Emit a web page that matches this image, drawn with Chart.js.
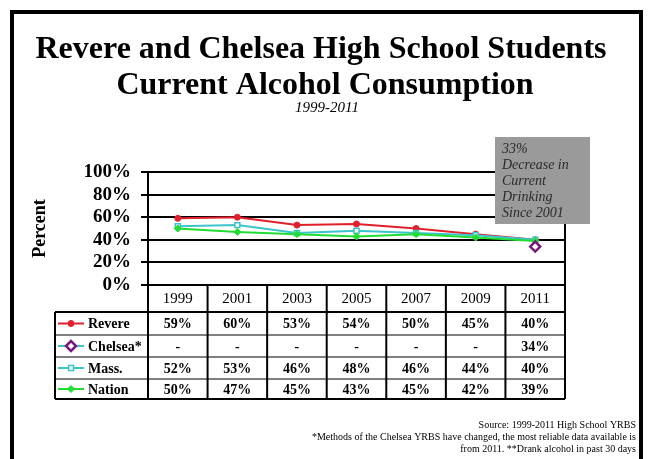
<!DOCTYPE html>
<html>
<head>
<meta charset="utf-8">
<script src="https://cdn.jsdelivr.net/npm/chart.js@4.4.0/dist/chart.umd.min.js"></script>
<style>
  html, body { margin: 0; padding: 0; background: #fff; }
  canvas { display: block; }
</style>
</head>
<body>
<canvas id="alcoholChart" width="649" height="459"></canvas>
<script>
const years = ['1999', '2001', '2003', '2005', '2007', '2009', '2011'];
const revere = [59, 60, 53, 54, 50, 45, 40];
const chelsea = [null, null, null, null, null, null, 34];
const mass = [52, 53, 46, 48, 46, 44, 40];
const nation = [50, 47, 45, 43, 45, 42, 39];
const titleLines = ['Revere and Chelsea High School Students', 'Current Alcohol Consumption'];
const subtitle = '1999-2011';
const noteLines = ['33%', 'Decrease in', 'Current', 'Drinking', 'Since 2001'];
const sourceLines = [
  'Source: 1999-2011 High School YRBS',
  '*Methods of the Chelsea YRBS have changed, the most reliable data available is',
  'from 2011. **Drank alcohol in past 30 days'
];

const SERIF = '"Liberation Serif", "Times New Roman", serif';

// series styling, also reused for the legend keys inside the table
const series = [
  { label: 'Revere', data: revere, line: '#e0202c', point: '#e0202c', fill: '#e0202c', style: 'circle', radius: 3, order: 2 },
  { label: 'Chelsea*', data: chelsea, line: '#3cc4cc', point: '#7a1878', fill: '#ffffff', style: 'rectRot', radius: 5, pointWidth: 2.5, order: -1 },
  { label: 'Mass.', data: mass, line: '#3cc4cc', point: '#3cc4cc', fill: '#ffffff', style: 'rect', radius: 3.5, pointWidth: 1.5, order: 1 },
  { label: 'Nation', data: nation, line: '#22dc33', point: '#22dc33', fill: '#22dc33', style: 'rectRot', radius: 3.5, order: 0 }
];

const datasets = series.map(s => ({
  label: s.label,
  data: s.data,
  borderColor: s.line,
  borderWidth: 2,
  pointStyle: s.style,
  pointRadius: s.radius,
  pointBorderColor: s.point,
  pointBackgroundColor: s.fill,
  pointBorderWidth: s.pointWidth || 1,
  tension: 0,
  order: s.order
}));

function drawKey(ctx, s, x0, x1, y) {
  ctx.strokeStyle = s.line;
  ctx.lineWidth = 2;
  ctx.beginPath();
  ctx.moveTo(x0, y);
  ctx.lineTo(x1, y);
  ctx.stroke();
  ctx.fillStyle = s.fill;
  ctx.strokeStyle = s.point;
  ctx.lineWidth = s.pointWidth || 1;
  Chart.helpers.drawPoint(ctx, {
    pointStyle: s.style,
    radius: s.radius,
    rotation: 0,
    borderWidth: s.pointWidth || 1
  }, (x0 + x1) / 2, y);
}

const framePlugin = {
  id: 'frame',
  afterDraw(chart) {
    const { ctx, chartArea: a, scales: { x } } = chart;
    ctx.save();

    // titles
    ctx.fillStyle = '#000';
    ctx.textAlign = 'center';
    ctx.textBaseline = 'alphabetic';
    ctx.font = `bold 32px ${SERIF}`;
    ctx.fillText(titleLines[0], 321, 58);
    ctx.fillText(titleLines[1], 325, 94);
    ctx.font = `italic 15px ${SERIF}`;
    ctx.fillText(subtitle, 327, 112);

    // right edge of the plot box
    ctx.strokeStyle = '#000';
    ctx.lineWidth = 2;
    ctx.beginPath();
    ctx.moveTo(a.right, a.top);
    ctx.lineTo(a.right, a.bottom);
    ctx.stroke();

    // data table under the plot
    const n = years.length;
    const half = (a.right - a.left) / n / 2;
    const rows = [a.bottom, a.bottom + 27, a.bottom + 50, a.bottom + 72, a.bottom + 94, a.bottom + 114];
    const keyLeft = 55;
    ctx.fillStyle = '#000';
    ctx.textAlign = 'center';
    ctx.textBaseline = 'middle';
    ctx.font = `15px ${SERIF}`;
    years.forEach((yr, i) => ctx.fillText(yr, x.getPixelForValue(i), (rows[0] + rows[1]) / 2 + 1));

    series.forEach((s, r) => {
      const cy = (rows[r + 1] + rows[r + 2]) / 2 + 1;
      ctx.fillStyle = '#000';
      ctx.font = `bold 14px ${SERIF}`;
      ctx.textAlign = 'center';
      s.data.forEach((v, i) => ctx.fillText(v == null ? '-' : v + '%', x.getPixelForValue(i), cy));
      ctx.textAlign = 'left';
      ctx.fillText(s.label, 88, cy);
      drawKey(ctx, s, keyLeft + 3, 84, cy - 1);
    });

    ctx.strokeStyle = '#000';
    ctx.lineWidth = 1;
    ctx.beginPath();
    [rows[2], rows[3], rows[4]].forEach(y => {
      ctx.moveTo(keyLeft, y);
      ctx.lineTo(a.right, y);
    });
    ctx.stroke();

    ctx.lineWidth = 2;
    ctx.beginPath();
    for (let i = 0; i <= n; i++) {
      const cx = i < n ? x.getPixelForValue(i) - half : x.getPixelForValue(n - 1) + half;
      ctx.moveTo(cx, rows[0]);
      ctx.lineTo(cx, rows[5]);
    }
    ctx.moveTo(keyLeft, rows[1]);
    ctx.lineTo(keyLeft, rows[5]);
    ctx.moveTo(keyLeft, rows[1]);
    ctx.lineTo(a.right, rows[1]);
    ctx.moveTo(keyLeft, rows[5]);
    ctx.lineTo(a.right, rows[5]);
    ctx.stroke();

    // callout box
    ctx.fillStyle = '#9a9a9a';
    ctx.fillRect(495, 137, 95, 87);
    ctx.fillStyle = '#2a2a2a';
    ctx.textAlign = 'left';
    ctx.textBaseline = 'middle';
    ctx.font = `italic 14px ${SERIF}`;
    noteLines.forEach((t, i) => ctx.fillText(t, 502, 149 + i * 16));

    // source notes
    ctx.fillStyle = '#000';
    ctx.textAlign = 'right';
    ctx.font = `10px ${SERIF}`;
    sourceLines.forEach((t, i) => ctx.fillText(t, 636, 425 + i * 12));

    // outer frame
    ctx.lineWidth = 4;
    ctx.strokeRect(12, 12, 629, 470);
    ctx.restore();
  }
};

new Chart(document.getElementById('alcoholChart'), {
  type: 'line',
  data: { labels: years, datasets },
  options: {
    responsive: false,
    animation: false,
    layout: { padding: { left: 20, right: 84, top: 172, bottom: 174 } },
    plugins: { legend: { display: false }, tooltip: { enabled: false } },
    scales: {
      x: { display: false, offset: true },
      y: {
        min: 0,
        max: 100,
        afterFit: scale => { scale.width = 128; },
        ticks: {
          stepSize: 20,
          autoSkip: false,
          padding: 10,
          color: '#000',
          font: { family: SERIF, size: 19, weight: 'bold' },
          callback: v => v + '%'
        },
        grid: { color: '#000', lineWidth: 2, tickLength: 7 },
        border: { color: '#000', width: 2 },
        title: {
          display: true,
          text: 'Percent',
          color: '#000',
          padding: { top: 10, bottom: 0 },
          font: { family: SERIF, size: 18, weight: 'bold' }
        }
      }
    }
  },
  plugins: [framePlugin]
});
</script>
</body>
</html>
